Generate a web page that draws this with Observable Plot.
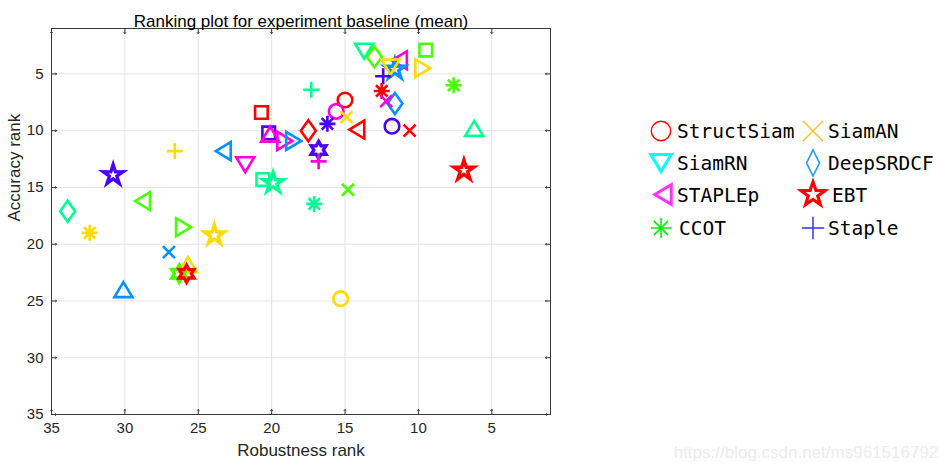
<!DOCTYPE html>
<html>
<head>
<meta charset="utf-8">
<script src="https://cdn.jsdelivr.net/npm/d3@7"></script>
<script src="https://cdn.jsdelivr.net/npm/@observablehq/plot@0.6"></script>
<style>
  html, body { margin: 0; padding: 0; background: #fff; }
  #chart { width: 939px; height: 470px; }
</style>
</head>
<body>
<div id="chart"></div>
<script>
// ---- data ----
const titleText = "Ranking plot for experiment baseline (mean)";
const xLabel = "Robustness rank";
const yLabel = "Accuracy rank";
const watermark = "https://blog.csdn.net/ms961516792";

const xTicks = [5, 10, 15, 20, 25, 30, 35];
const yTicks = [5, 10, 15, 20, 25, 30, 35];

// robustness rank (x), accuracy rank (y), marker shape, marker colour
const robustness = [13.7, 13.0, 11.3, 11.6, 11.9, 12.4, 9.5, 9.7, 12.5, 11.6, 12.2, 7.6, 17.3, 15.0, 15.6, 14.9, 20.7, 16.2, 17.5, 14.2, 11.8, 10.6, 6.2, 20.2, 20.1, 19.1, 18.5, 16.8, 16.8, 23.3, 21.8, 26.6, 30.8, 20.6, 19.9, 6.9, 14.8, 17.1, 28.8, 33.9, 32.4, 26.0, 23.9, 27.0, 25.7, 26.3, 25.8, 30.1, 15.3];
const accuracy   = [3.0, 3.5, 3.8, 4.6, 4.4, 5.2, 2.9, 4.5, 6.5, 7.6, 7.4, 6.0, 6.4, 7.3, 8.3, 8.8, 8.4, 9.4, 10.0, 9.9, 9.6, 10.0, 9.8, 10.2, 10.3, 10.9, 10.9, 11.7, 12.7, 11.8, 13.0, 11.8, 13.9, 14.3, 14.6, 13.5, 15.2, 16.45, 16.2, 17.1, 19.0, 18.5, 19.2, 20.7, 21.8, 22.6, 22.6, 24.0, 24.8];
const shapes     = ["v", "d", "<", "p", "v", "+", "s", ">", "*", "d", "x", "*", "+", "o", "o", "x", "s", "*", "d", "<", "o", "x", "^", "s", "^", ">", ">", "h", "+", "<", "v", "+", "p", "s", "p", "p", "x", "*", "<", "d", "*", ">", "p", "x", "^", "h", "h", "^", "o"];
const colors     = ["teal", "lime", "magenta", "azure", "yellow", "violet", "lime", "yellow", "red", "azure", "magenta", "lime", "teal", "red", "magenta", "yellow", "red", "violet", "red", "red", "violet", "red", "teal", "violet", "magenta", "magenta", "azure", "violet", "magenta", "azure", "magenta", "yellow", "violet", "teal", "teal", "red", "lime", "teal", "lime", "teal", "yellow", "lime", "yellow", "azure", "yellow", "lime", "red", "azure", "yellow"];

const palette = {red: "#FF0000", yellow: "#FFDB00", lime: "#49FF00", teal: "#00FF92", azure: "#0092FF", violet: "#4900FF", magenta: "#FF00DB"};

// legend (separate image in the reference)
const legendNames  = ["StructSiam", "SiamAN", "SiamRN", "DeepSRDCF", "STAPLEp", "EBT", "CCOT", "Staple"];
const legendShapes = ["o", "x", "v", "D", "<", "P", "*", "+"];
const legendColors = ["#FF0000", "#FFC125", "#00FFFF", "#1C9BE6", "#FF33FF", "#FF0000", "#00EE00", "#3535FF"];

// ---- marker geometry (MATLAB style) ----
function star(ctx, n, ro, ri, s) {
  for (let i = 0; i < 2 * n; i++) {
    const a = -Math.PI / 2 + i * Math.PI / n;
    const rr = (i % 2 ? ri : ro) * s;
    const px = rr * Math.cos(a), py = rr * Math.sin(a);
    if (i === 0) ctx.moveTo(px, py); else ctx.lineTo(px, py);
  }
  ctx.closePath();
}
function poly(ctx, pts, s) {
  pts.forEach(([a, b], i) => i ? ctx.lineTo(a * s, b * s) : ctx.moveTo(a * s, b * s));
  ctx.closePath();
}
const geom = {
  "o": (c, s) => { c.moveTo(7.3 * s, 0); c.arc(0, 0, 7.3 * s, 0, 2 * Math.PI); },
  "x": (c, s) => { c.moveTo(-6 * s, -6 * s); c.lineTo(6 * s, 6 * s); c.moveTo(-6 * s, 6 * s); c.lineTo(6 * s, -6 * s); },
  "+": (c, s) => { c.moveTo(-8 * s, 0); c.lineTo(8 * s, 0); c.moveTo(0, -8 * s); c.lineTo(0, 8 * s); },
  "*": (c, s) => { const d = 5.7 * s, e = 8 * s;
    c.moveTo(-e, 0); c.lineTo(e, 0); c.moveTo(0, -e); c.lineTo(0, e);
    c.moveTo(-d, -d); c.lineTo(d, d); c.moveTo(-d, d); c.lineTo(d, -d); },
  "s": (c, s) => poly(c, [[-6.3, -6.3], [6.3, -6.3], [6.3, 6.3], [-6.3, 6.3]], s),
  "d": (c, s) => poly(c, [[0, -10.5], [7.5, 0], [0, 10.5], [-7.5, 0]], s),
  "D": (c, s) => poly(c, [[0, -13], [6.5, 0], [0, 13], [-6.5, 0]], s),
  "^": (c, s) => poly(c, [[0, -7.5], [9, 7.5], [-9, 7.5]], s),
  "v": (c, s) => poly(c, [[-9, -7.5], [9, -7.5], [0, 7.5]], s),
  "<": (c, s) => poly(c, [[-7.5, 0], [7.5, -9], [7.5, 9]], s),
  ">": (c, s) => poly(c, [[7.5, 0], [-7.5, -9], [-7.5, 9]], s),
  "p": (c, s) => star(c, 5, 10.5, 3.9, s),
  "P": (c, s) => star(c, 5, 12.5, 5.0, s),
  "h": (c, s) => star(c, 6, 8.6, 4.8, s)
};
const symbolObj = k => ({ draw(ctx, size) { geom[k](ctx, Math.sqrt(size / Math.PI) / 10); } });
const shapeKeys = Object.keys(geom);
const isStar = k => k === "p" || k === "h";

const points = robustness.map((x, i) => ({x, y: accuracy[i], shape: shapes[i], color: palette[colors[i]]}));

const ink = "#3a3a3a";
const chart = Plot.plot({
  width: 939,
  height: 470,
  marginLeft: 51,
  marginRight: 389,
  marginTop: 28,
  marginBottom: 56,
  style: {fontFamily: "'Liberation Sans', Arial, Helvetica, sans-serif", fontSize: "15px", color: "#262626", background: "#fff", overflow: "visible"},
  x: {domain: [35, 1]},
  y: {domain: [1, 35], reverse: true},
  color: {type: "identity"},
  symbol: {domain: shapeKeys, range: shapeKeys.map(symbolObj)},
  marks: [
    Plot.gridX(xTicks, {stroke: "#e4e4e4", strokeOpacity: 1, strokeWidth: 1}),
    Plot.gridY(yTicks, {stroke: "#e4e4e4", strokeOpacity: 1, strokeWidth: 1}),
    Plot.axisX(xTicks, {anchor: "bottom", tickSize: 0, tickPadding: 8, label: null, fill: "#262626"}),
    Plot.axisY(yTicks, {anchor: "left", tickSize: 0, tickPadding: 8, label: null, fill: "#262626"}),
    Plot.vector(xTicks, {x: d => d, frameAnchor: "bottom", rotate: 0, length: 5, anchor: "start", stroke: ink, strokeWidth: 1}),
    Plot.vector(xTicks, {x: d => d, frameAnchor: "top", rotate: 180, length: 5, anchor: "start", stroke: ink, strokeWidth: 1}),
    Plot.vector(yTicks, {y: d => d, frameAnchor: "left", rotate: 90, length: 5, anchor: "start", stroke: ink, strokeWidth: 1}),
    Plot.vector(yTicks, {y: d => d, frameAnchor: "right", rotate: -90, length: 5, anchor: "start", stroke: ink, strokeWidth: 1}),
    Plot.frame({stroke: ink, strokeWidth: 1}),
    Plot.dot(points, {x: "x", y: "y", symbol: "shape", stroke: "color", fill: "none", r: 10,
      strokeWidth: d => isStar(d.shape) ? 3.3 : 2.6}),
    Plot.text([titleText], {frameAnchor: "top", dy: -14, fontSize: 17, fill: "#000"}),
    Plot.text([xLabel], {frameAnchor: "bottom", dy: 41, fontSize: 17, fill: "#262626"}),
    Plot.text([yLabel], {frameAnchor: "left", dx: -37, rotate: -90, fontSize: 17, fill: "#262626"})
  ]
});

// ---- legend & watermark drawn into the same svg ----
const svg = d3.select(chart);
const colX = [661, 813];
const textX = [677, 828];
const rowY = [131, 163, 194.5, 228];
const legendSW = {"o": 1.4, "x": 1.4, "v": 3, "D": 1.6, "<": 3, "P": 3.2, "*": 1.5, "+": 1.5};
const legendScale = {"o": 1.33, "x": 1.7, "v": 1.15, "D": 1.0, "<": 1.1, "P": 1.0, "*": 1.25, "+": 1.4};
const lg = svg.append("g").attr("text-anchor", "start");
legendNames.forEach((name, i) => {
  const col = i % 2, row = Math.floor(i / 2);
  const k = legendShapes[i];
  const p = d3.path();
  geom[k](p, legendScale[k]);
  lg.append("path")
    .attr("d", p.toString())
    .attr("transform", `translate(${colX[col] + (k === "<" ? 2 : 0)},${rowY[row]})`)
    .attr("fill", "none")
    .attr("stroke", legendColors[i])
    .attr("stroke-width", legendSW[k])
    .attr("stroke-linejoin", "miter");
  lg.append("text")
    .attr("x", textX[col] + (k === "*" ? 2 : 0) + (k === "P" ? 4 : 0))
    .attr("y", rowY[row])
    .attr("dy", "0.36em")
    .attr("text-anchor", "start")
    .attr("font-family", "'DejaVu Sans Mono', monospace")
    .attr("font-size", 19.5)
    .attr("fill", "#000")
    .text(name);
});
svg.append("text")
  .attr("x", 806)
  .attr("y", 458)
  .attr("text-anchor", "middle")
  .attr("font-family", "'Liberation Sans', Arial, sans-serif")
  .attr("font-size", 17)
  .attr("fill", "#ececec")
  .text(watermark);

document.getElementById("chart").appendChild(chart);
</script>
</body>
</html>
